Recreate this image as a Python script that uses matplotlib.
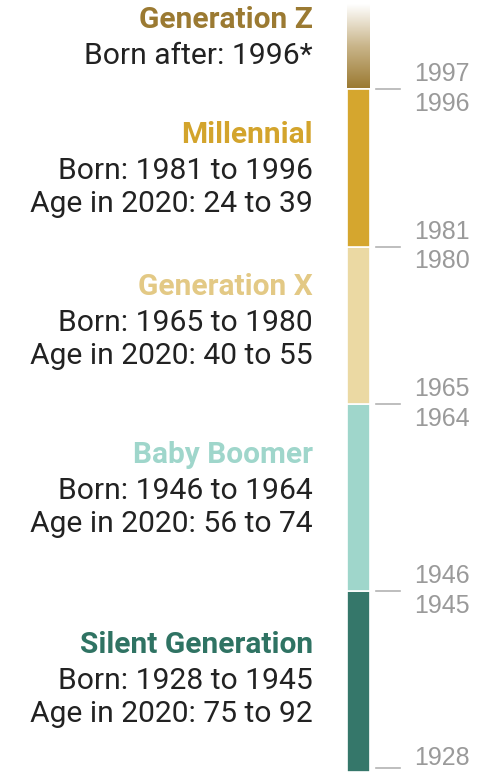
import numpy as np
import matplotlib.pyplot as plt
import matplotlib.transforms as mtransforms
from matplotlib.colors import LinearSegmentedColormap

# Geracoes: nome, ano inicial, ano final, idade em 2020
nomes = ['Silent Generation', 'Baby Boomer', 'Generation X', 'Millennial', 'Generation Z']
inicio = [1928, 1946, 1965, 1981, 1997]
fim = [1945, 1964, 1980, 1996, 2005]
idade_min = [75, 56, 40, 24, None]
idade_max = [92, 74, 55, 39, None]
cores_barra = ['#35776a', '#9fd6cb', '#ebd9a3', '#d5a62e', '#9b7a32']
cores_titulo = ['#2f7363', '#9fd6cb', '#e3c985', '#d3a42c', '#9b7a32']

# rotulos de ano ao lado da barra
anos_marcados = [1928, 1946, 1965, 1981, 1997]

fig = plt.figure(figsize=(5, 7.72), dpi=100)
ax = fig.add_axes([0, 0, 1, 1])
ax.set_xlim(0, 500)
ax.set_ylim(1927.6, 2006.05)
ax.axis('off')

x_barra, larg_barra = 347, 23

for i in range(len(nomes)):
    if nomes[i] == 'Generation Z':
        # degrade do dourado escuro para branco
        cmap = LinearSegmentedColormap.from_list('gz', [cores_barra[i], '#c9b58a', '#ffffff'])
        grad = np.linspace(0, 1, 256).reshape(-1, 1)
        ax.imshow(grad, cmap=cmap, aspect='auto', origin='lower',
                  extent=[x_barra, x_barra + larg_barra, inicio[i] + 0.15, 2005.6], zorder=1)
    else:
        base = inicio[i] if i > 0 else 1927.6
        ax.bar(x_barra, fim[i] + 1 - base, bottom=base, width=larg_barra,
               align='edge', color=cores_barra[i], edgecolor='white', linewidth=1.2, zorder=2)

# tracinhos e anos
off = lambda dy: mtransforms.offset_copy(ax.transData, fig=fig, x=0, y=dy, units='points')
for ano in anos_marcados:
    ax.plot([376, 400], [ano, ano], color='#b3b3b3', lw=1.2, zorder=3)
    ax.text(414, ano, str(ano), transform=off(10.5 if ano != 1928 else 7), ha='left', va='center',
            fontsize=18, color='#9a9a9a', family='Liberation Sans')
    if ano != 1928:
        ax.text(414, ano, str(ano - 1), transform=off(-10.5), ha='left', va='center',
                fontsize=18, color='#9a9a9a', family='Liberation Sans')

# textos da esquerda (posicao em pixels a partir do topo)
pos_titulo = [645, 455, 287, 135, 20]
x_txt = 313
tr = mtransforms.blended_transform_factory(ax.transData, ax.transAxes)
for i in range(len(nomes)):
    yt = 1 - pos_titulo[i] / 772
    ax.text(x_txt, yt, nomes[i], transform=tr, ha='right', va='center', fontsize=21.5,
            fontweight='bold', color=cores_titulo[i], family='Roboto')
    if idade_min[i] is None:
        linhas = [f'Born after: {inicio[i] - 1}*']
    else:
        linhas = [f'Born: {inicio[i]} to {fim[i]}', f'Age in 2020: {idade_min[i]} to {idade_max[i]}']
    for j, linha in enumerate(linhas):
        yl = 1 - (pos_titulo[i] + 36 + j * 33) / 772
        ax.text(x_txt, yl, linha, transform=tr, ha='right', va='center', fontsize=21.6,
                color='#222222', family='Roboto')

fig.savefig('out.png', dpi=100, facecolor='white')
